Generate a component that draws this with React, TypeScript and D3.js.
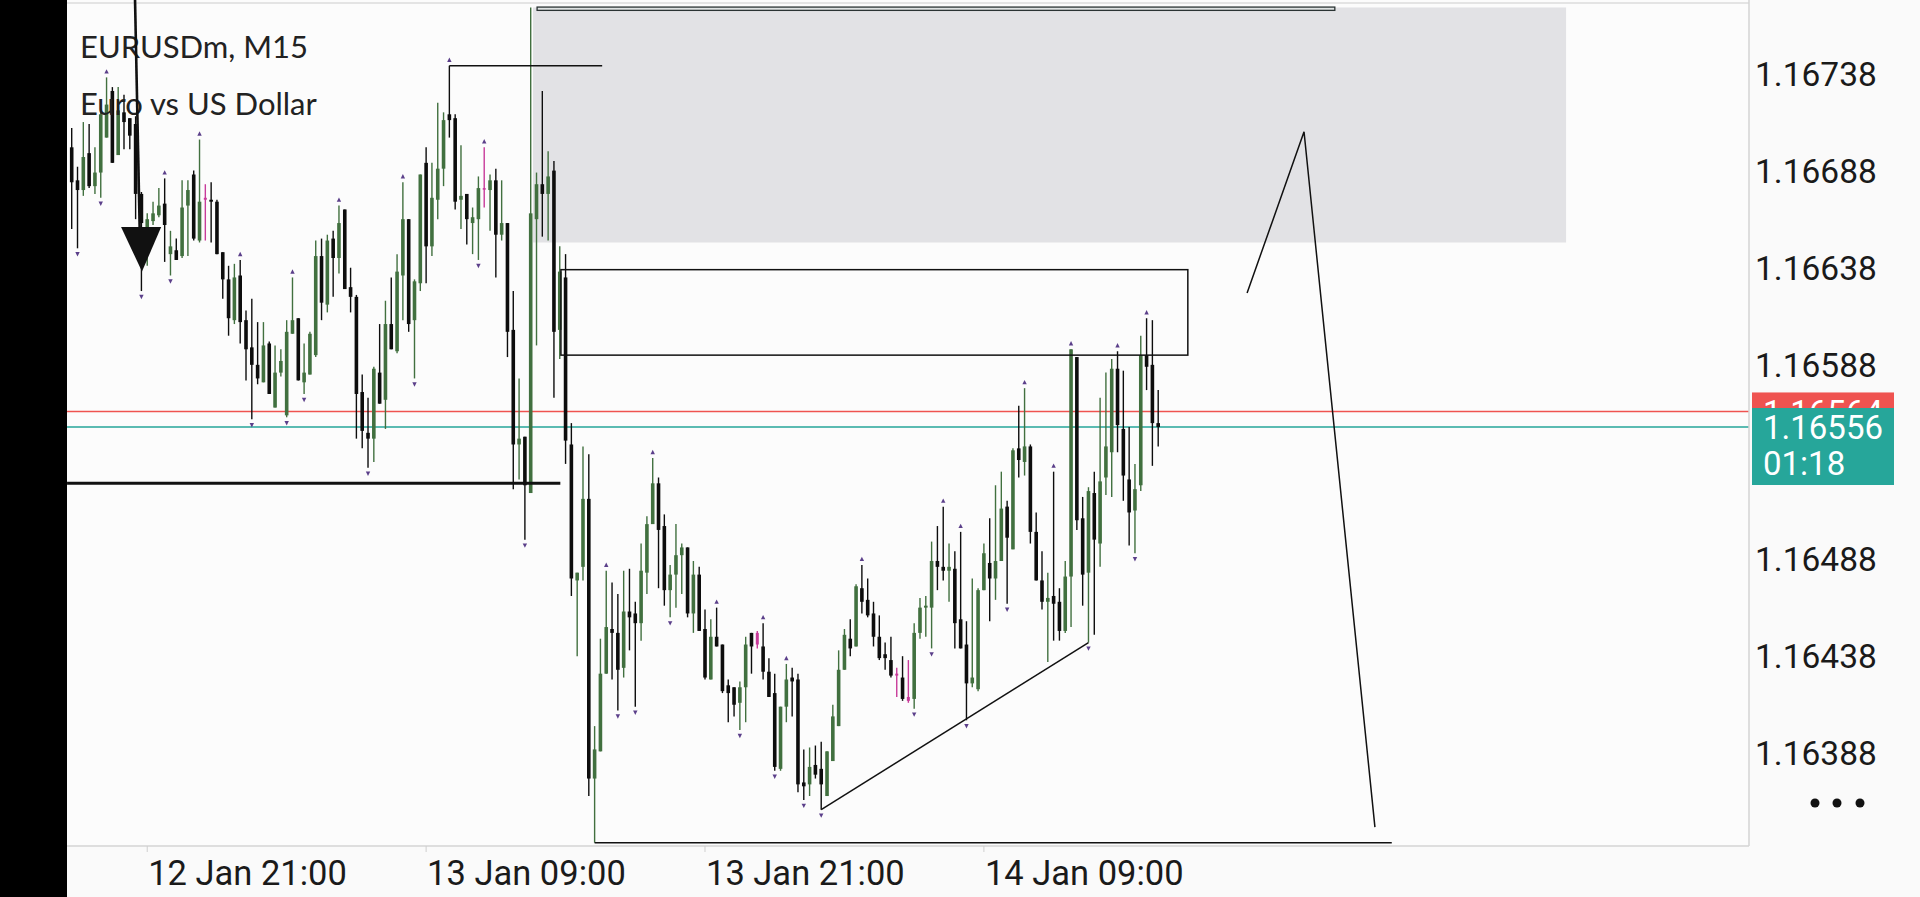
import React from 'react';
import * as d3 from 'd3';

const W = 1920;
const H = 897;
const PLOT = { left: 67, right: 1749, top: 0, bottom: 846 };

const open = [
  1.16700, 1.16683, 1.16678, 1.16697, 1.16680, 1.16687, 1.16705, 1.16729, 1.16696, 1.16718,
  1.16715, 1.16712, 1.16676, 1.16656, 1.16662, 1.16665, 1.16671, 1.16645, 1.16647, 1.16644,
  1.16670, 1.16686, 1.16652, 1.16673, 1.16673, 1.16672, 1.16646, 1.16632, 1.16611, 1.16634,
  1.16611, 1.16597, 1.16588, 1.16579, 1.16599, 1.16566, 1.16584, 1.16562, 1.16604, 1.16612,
  1.16579, 1.16583, 1.16593, 1.16644, 1.16619, 1.16653, 1.16643, 1.16668, 1.16628, 1.16623,
  1.16574, 1.16553, 1.16550, 1.16584, 1.16570, 1.16609, 1.16595, 1.16634, 1.16663, 1.16611,
  1.16630, 1.16692, 1.16649, 1.16673, 1.16689, 1.16717, 1.16715, 1.16673, 1.16676, 1.16661,
  1.16663, 1.16679, 1.16678, 1.16683, 1.16655, 1.16661, 1.16606, 1.16547, 1.16551, 1.16522,
  1.16663, 1.16681, 1.16676, 1.16688, 1.16606, 1.16633, 1.16547, 1.16477, 1.16484, 1.16519,
  1.16375, 1.16389, 1.16429, 1.16452, 1.16450, 1.16432, 1.16461, 1.16460, 1.16455, 1.16481,
  1.16506, 1.16527, 1.16505, 1.16472, 1.16480, 1.16490, 1.16494, 1.16460, 1.16480, 1.16452,
  1.16426, 1.16448, 1.16444, 1.16423, 1.16422, 1.16414, 1.16422, 1.16450, 1.16450, 1.16443,
  1.16430, 1.16419, 1.16380, 1.16412, 1.16427, 1.16426, 1.16373, 1.16372, 1.16382, 1.16380,
  1.16366, 1.16384, 1.16402, 1.16431, 1.16447, 1.16443, 1.16473, 1.16467, 1.16460, 1.16448,
  1.16439, 1.16436, 1.16428, 1.16427, 1.16415, 1.16416, 1.16450, 1.16463, 1.16463, 1.16487,
  1.16484, 1.16482, 1.16483, 1.16457, 1.16444, 1.16424, 1.16421, 1.16472, 1.16486, 1.16478,
  1.16487, 1.16515, 1.16493, 1.16545, 1.16538, 1.16546, 1.16502, 1.16477, 1.16466, 1.16469,
  1.16466, 1.16451, 1.16479, 1.16592, 1.16509, 1.16481, 1.16522, 1.16496, 1.16530, 1.16543,
  1.16586, 1.16555, 1.16529, 1.16513, 1.16526, 1.16593, 1.16588, 1.16558,
];

const high = [
  1.16710, 1.16690, 1.16713, 1.16712, 1.16700, 1.16720, 1.16736, 1.16731, 1.16731, 1.16727,
  1.16715, 1.16716, 1.16677, 1.16666, 1.16672, 1.16679, 1.16684, 1.16657, 1.16653, 1.16683,
  1.16683, 1.16688, 1.16704, 1.16681, 1.16682, 1.16673, 1.16646, 1.16639, 1.16640, 1.16642,
  1.16616, 1.16622, 1.16610, 1.16610, 1.16600, 1.16598, 1.16596, 1.16611, 1.16633, 1.16612,
  1.16599, 1.16605, 1.16652, 1.16653, 1.16655, 1.16657, 1.16670, 1.16668, 1.16638, 1.16624,
  1.16583, 1.16571, 1.16587, 1.16609, 1.16621, 1.16633, 1.16645, 1.16682, 1.16663, 1.16632,
  1.16686, 1.16700, 1.16692, 1.16723, 1.16718, 1.16742, 1.16717, 1.16701, 1.16676, 1.16669,
  1.16685, 1.16700, 1.16686, 1.16689, 1.16683, 1.16661, 1.16626, 1.16581, 1.16551, 1.16772,
  1.16687, 1.16729, 1.16698, 1.16693, 1.16649, 1.16645, 1.16558, 1.16481, 1.16546, 1.16542,
  1.16402, 1.16447, 1.16482, 1.16476, 1.16470, 1.16482, 1.16483, 1.16466, 1.16496, 1.16510,
  1.16540, 1.16530, 1.16511, 1.16485, 1.16506, 1.16496, 1.16494, 1.16487, 1.16484, 1.16462,
  1.16457, 1.16463, 1.16444, 1.16426, 1.16422, 1.16425, 1.16448, 1.16450, 1.16451, 1.16455,
  1.16437, 1.16429, 1.16412, 1.16434, 1.16432, 1.16429, 1.16390, 1.16391, 1.16392, 1.16394,
  1.16389, 1.16413, 1.16441, 1.16452, 1.16457, 1.16475, 1.16485, 1.16478, 1.16466, 1.16459,
  1.16445, 1.16448, 1.16432, 1.16438, 1.16436, 1.16455, 1.16468, 1.16469, 1.16497, 1.16505,
  1.16515, 1.16496, 1.16492, 1.16502, 1.16456, 1.16478, 1.16473, 1.16496, 1.16509, 1.16526,
  1.16533, 1.16518, 1.16545, 1.16567, 1.16576, 1.16547, 1.16512, 1.16492, 1.16481, 1.16533,
  1.16473, 1.16487, 1.16596, 1.16592, 1.16520, 1.16525, 1.16533, 1.16571, 1.16584, 1.16591,
  1.16595, 1.16585, 1.16556, 1.16537, 1.16603, 1.16612, 1.16611, 1.16575,
];

const low = [
  1.16658, 1.16648, 1.16675, 1.16679, 1.16676, 1.16674, 1.16705, 1.16692, 1.16696, 1.16699,
  1.16699, 1.16663, 1.16626, 1.16639, 1.16660, 1.16664, 1.16641, 1.16634, 1.16642, 1.16643,
  1.16644, 1.16652, 1.16651, 1.16652, 1.16651, 1.16645, 1.16622, 1.16603, 1.16609, 1.16599,
  1.16580, 1.16560, 1.16578, 1.16579, 1.16573, 1.16566, 1.16582, 1.16561, 1.16604, 1.16580,
  1.16573, 1.16583, 1.16592, 1.16611, 1.16615, 1.16623, 1.16635, 1.16627, 1.16615, 1.16550,
  1.16545, 1.16535, 1.16538, 1.16568, 1.16555, 1.16596, 1.16594, 1.16611, 1.16605, 1.16581,
  1.16626, 1.16630, 1.16644, 1.16663, 1.16680, 1.16705, 1.16668, 1.16658, 1.16650, 1.16645,
  1.16642, 1.16669, 1.16657, 1.16633, 1.16652, 1.16592, 1.16524, 1.16529, 1.16498, 1.16522,
  1.16598, 1.16654, 1.16652, 1.16571, 1.16591, 1.16537, 1.16469, 1.16438, 1.16477, 1.16366,
  1.16342, 1.16389, 1.16429, 1.16426, 1.16410, 1.16427, 1.16441, 1.16412, 1.16446, 1.16470,
  1.16506, 1.16473, 1.16464, 1.16458, 1.16463, 1.16470, 1.16458, 1.16450, 1.16451, 1.16426,
  1.16426, 1.16443, 1.16419, 1.16404, 1.16407, 1.16400, 1.16404, 1.16429, 1.16442, 1.16426,
  1.16417, 1.16379, 1.16379, 1.16404, 1.16407, 1.16368, 1.16364, 1.16366, 1.16375, 1.16359,
  1.16366, 1.16384, 1.16402, 1.16431, 1.16438, 1.16443, 1.16460, 1.16458, 1.16443, 1.16436,
  1.16431, 1.16427, 1.16417, 1.16415, 1.16414, 1.16411, 1.16447, 1.16448, 1.16442, 1.16472,
  1.16477, 1.16466, 1.16442, 1.16442, 1.16405, 1.16422, 1.16420, 1.16472, 1.16456, 1.16467,
  1.16487, 1.16465, 1.16493, 1.16530, 1.16531, 1.16496, 1.16477, 1.16462, 1.16435, 1.16446,
  1.16446, 1.16450, 1.16453, 1.16503, 1.16464, 1.16445, 1.16449, 1.16484, 1.16521, 1.16520,
  1.16543, 1.16518, 1.16495, 1.16491, 1.16523, 1.16575, 1.16536, 1.16546,
];

const close = [
  1.16682, 1.16678, 1.16695, 1.16680, 1.16687, 1.16717, 1.16722, 1.16692, 1.16719, 1.16713,
  1.16706, 1.16676, 1.16661, 1.16663, 1.16666, 1.16670, 1.16660, 1.16649, 1.16642, 1.16669,
  1.16678, 1.16653, 1.16672, 1.16674, 1.16672, 1.16645, 1.16632, 1.16612, 1.16633, 1.16610,
  1.16596, 1.16588, 1.16581, 1.16598, 1.16573, 1.16584, 1.16590, 1.16605, 1.16611, 1.16580,
  1.16584, 1.16604, 1.16644, 1.16620, 1.16652, 1.16643, 1.16661, 1.16627, 1.16623, 1.16573,
  1.16554, 1.16550, 1.16586, 1.16568, 1.16609, 1.16596, 1.16636, 1.16663, 1.16609, 1.16631,
  1.16686, 1.16649, 1.16674, 1.16689, 1.16714, 1.16714, 1.16672, 1.16675, 1.16663, 1.16664,
  1.16679, 1.16679, 1.16683, 1.16655, 1.16661, 1.16605, 1.16547, 1.16550, 1.16526, 1.16666,
  1.16681, 1.16676, 1.16685, 1.16605, 1.16636, 1.16549, 1.16478, 1.16481, 1.16519, 1.16375,
  1.16390, 1.16429, 1.16453, 1.16450, 1.16431, 1.16461, 1.16458, 1.16455, 1.16482, 1.16506,
  1.16527, 1.16503, 1.16472, 1.16480, 1.16490, 1.16494, 1.16460, 1.16480, 1.16451, 1.16427,
  1.16448, 1.16443, 1.16420, 1.16419, 1.16413, 1.16422, 1.16444, 1.16443, 1.16444, 1.16430,
  1.16417, 1.16381, 1.16412, 1.16426, 1.16425, 1.16372, 1.16371, 1.16381, 1.16377, 1.16372,
  1.16389, 1.16407, 1.16431, 1.16449, 1.16442, 1.16474, 1.16466, 1.16459, 1.16448, 1.16437,
  1.16437, 1.16428, 1.16429, 1.16416, 1.16417, 1.16450, 1.16463, 1.16464, 1.16487, 1.16484,
  1.16482, 1.16484, 1.16455, 1.16442, 1.16424, 1.16427, 1.16472, 1.16491, 1.16478, 1.16487,
  1.16514, 1.16499, 1.16544, 1.16539, 1.16546, 1.16502, 1.16477, 1.16466, 1.16468, 1.16465,
  1.16451, 1.16479, 1.16596, 1.16508, 1.16480, 1.16523, 1.16498, 1.16528, 1.16546, 1.16586,
  1.16557, 1.16531, 1.16512, 1.16524, 1.16593, 1.16587, 1.16558, 1.16556,
];

const magentaBars = [23, 71, 118, 142, 144];
const upFractals = [6, 16, 22, 29, 38, 46, 57, 65, 71, 92, 100, 111, 119, 123, 136, 150, 153, 164, 169, 172, 180, 185];
const downFractals = [1, 5, 12, 17, 31, 37, 40, 51, 59, 70, 78, 94, 97, 103, 115, 121, 126, 129, 145, 148, 154, 161, 175, 183];

const priceTicks = [1.16738, 1.16688, 1.16638, 1.16588, 1.16538, 1.16488, 1.16438, 1.16388];
const timeTickBars = [13, 61, 109, 157];
const timeTickLabels = ['12 Jan 21:00', '13 Jan 09:00', '13 Jan 21:00', '14 Jan 09:00'];

const askPrice = 1.16564;
const bidPrice = 1.16556;
const countdown = '01:18';
const symbolTitle = 'EURUSDm, M15';
const symbolName = 'Euro vs US Dollar';

// drawn objects (bar index / price)
const zoneBars = [79.4, 257.2];
const zonePrices = [1.16772, 1.16651];
const bandBars = [80.1, 217.4];
const bandPrices = [1.167722, 1.167705];
const boxBars = [84.2, 192.1];
const boxPrices = [1.16637, 1.16593];
const supportPrice = 1.16527;
const supportBars = [-0.8, 84.1];
const highLineEndBar = 91.3;
const lowLineEndBar = 227.2;
const trendBars = [129, 175];
const zigBars = [202.3, 212.1, 224.3];
const zigPrices = [1.16625, 1.16708, 1.16350];
const arrowLineBars = [10.9, 11.7];
const arrowLinePrices = [1.16776, 1.16658];
const arrowHeadBars = [8.5, 15.4, 12.1];
const arrowHeadPrices = [1.16659, 1.16659, 1.16636];

const GREEN = '#41703f';
const BLACK = '#0d0d0d';
const MAGENTA = '#c83b9a';
const RED = '#ef5350';
const TEAL = '#26a69a';

export default function App() {
  const x = d3.scaleLinear().domain([0, 187]).range([71.7, 1158.2]);
  const y = d3.scaleLinear().domain([1.16388, 1.16738]).range([753.3, 73.5]);

  const candles = open.map((o, i) => {
    const c = close[i];
    const isMag = magentaBars.includes(i);
    const color = isMag ? MAGENTA : c > o ? GREEN : BLACK;
    const cx = x(i);
    const yTop = y(Math.max(o, c));
    const yBot = y(Math.min(o, c));
    const bw = isMag ? 3 : 3.6;
    return (
      <g key={i}>
        <line x1={cx} x2={cx} y1={y(high[i])} y2={y(low[i])} stroke={color} strokeWidth={1.4} />
        <rect x={cx - bw / 2} y={yTop} width={bw} height={Math.max(1.6, yBot - yTop)} fill={color} />
      </g>
    );
  });

  const tri = (cx: number, cy: number, up: boolean) => {
    const s = 2.2;
    return up
      ? `M${cx - s},${cy + s} L${cx + s},${cy + s} L${cx},${cy - s} Z`
      : `M${cx - s},${cy - s} L${cx + s},${cy - s} L${cx},${cy + s} Z`;
  };

  const zig = d3.line<number>()
    .x((_, i) => x(zigBars[i]))
    .y((p) => y(p))(zigPrices) as string;

  const yAsk = y(askPrice);
  const yBid = y(bidPrice);
  const axisFont = 'Roboto, "Noto Sans", sans-serif';

  return (
    <div style={{ position: 'absolute', left: 0, top: 0, width: W, height: H, overflow: 'hidden' }}>
      <svg width={W} height={H} style={{ display: 'block' }}>
        <defs>
          <clipPath id="plotClip">
            <rect x={PLOT.left} y={PLOT.top} width={PLOT.right - PLOT.left} height={PLOT.bottom - PLOT.top} />
          </clipPath>
          <clipPath id="askClip">
            <rect x={1752} y={0} width={142} height={yBid - 19} />
          </clipPath>
        </defs>
        <rect x={0} y={0} width={W} height={H} fill="#fafafa" />
        <rect x={PLOT.left} y={PLOT.top} width={PLOT.right - PLOT.left} height={PLOT.bottom - PLOT.top} fill="#fcfcfc" />

        <g clipPath="url(#plotClip)">
          {/* supply zone */}
          <rect
            x={x(zoneBars[0])}
            y={y(zonePrices[0])}
            width={x(zoneBars[1]) - x(zoneBars[0])}
            height={y(zonePrices[1]) - y(zonePrices[0])}
            fill="#e2e2e5"
          />
          <rect
            x={x(bandBars[0])}
            y={y(bandPrices[0])}
            width={x(bandBars[1]) - x(bandBars[0])}
            height={y(bandPrices[1]) - y(bandPrices[0])}
            fill="#dfe3e3"
            stroke="#2a3333"
            strokeWidth={1.3}
          />

          {/* price lines */}
          <line x1={PLOT.left} x2={PLOT.right} y1={yAsk} y2={yAsk} stroke={RED} strokeWidth={1.5} />
          <line x1={PLOT.left} x2={PLOT.right} y1={yBid} y2={yBid} stroke={TEAL} strokeWidth={1.5} />

          {candles}

          {upFractals.map((i) => (
            <path key={'u' + i} d={tri(x(i), y(high[i]) - 6, true)} fill="#5b3f8a" />
          ))}
          {downFractals.map((i) => (
            <path key={'d' + i} d={tri(x(i), y(low[i]) + 6, false)} fill="#5b3f8a" />
          ))}

          {/* rectangle */}
          <rect
            x={x(boxBars[0])}
            y={y(boxPrices[0])}
            width={x(boxBars[1]) - x(boxBars[0])}
            height={y(boxPrices[1]) - y(boxPrices[0])}
            fill="none"
            stroke="#111"
            strokeWidth={1.5}
          />
          {/* support thick line */}
          <line x1={x(supportBars[0])} x2={x(supportBars[1])} y1={y(supportPrice)} y2={y(supportPrice)} stroke="#111" strokeWidth={3} />
          {/* high line */}
          <line x1={x(65)} x2={x(highLineEndBar)} y1={y(high[65])} y2={y(high[65])} stroke="#111" strokeWidth={1.5} />
          {/* low line */}
          <line x1={x(90)} x2={x(lowLineEndBar)} y1={y(low[90])} y2={y(low[90])} stroke="#111" strokeWidth={1.5} />
          {/* trendline */}
          <line x1={x(trendBars[0])} y1={y(low[trendBars[0]])} x2={x(trendBars[1])} y2={y(low[trendBars[1]])} stroke="#111" strokeWidth={1.5} />
          {/* projection zigzag */}
          <path d={zig} fill="none" stroke="#111" strokeWidth={1.5} />
        </g>

        {/* frame */}
        <line x1={PLOT.left} x2={PLOT.right} y1={3} y2={3} stroke="#dcdcdc" strokeWidth={1.5} />
        <line x1={PLOT.right} x2={PLOT.right} y1={0} y2={PLOT.bottom} stroke="#d4d4d4" strokeWidth={1.5} />
        <line x1={PLOT.left} x2={PLOT.right} y1={PLOT.bottom} y2={PLOT.bottom} stroke="#d4d4d4" strokeWidth={1.5} />

        {/* titles */}
        <text x={80} y={58} fontFamily="Lato, sans-serif" fontSize={31} fill="#222">{symbolTitle}</text>
        <text x={80} y={115} fontFamily="Lato, sans-serif" fontSize={31} fill="#222">{symbolName}</text>

        {/* arrow */}
        <line
          x1={x(arrowLineBars[0])}
          y1={y(arrowLinePrices[0])}
          x2={x(arrowLineBars[1])}
          y2={y(arrowLinePrices[1])}
          stroke="#111"
          strokeWidth={2.6}
        />
        <path
          d={`M${x(arrowHeadBars[0])},${y(arrowHeadPrices[0])} L${x(arrowHeadBars[1])},${y(arrowHeadPrices[1])} L${x(arrowHeadBars[2])},${y(arrowHeadPrices[2])} Z`}
          fill="#111"
        />

        {/* price axis */}
        {priceTicks.map((p) => (
          <text key={p} x={1755} y={y(p) + 12} fontFamily={axisFont} fontSize={33.5} fill="#1a1a1a">
            {p.toFixed(5)}
          </text>
        ))}

        {/* ask label (partly hidden by bid label) */}
        <rect x={1752} y={yAsk - 19} width={142} height={40} fill={RED} />
        <text x={1763} y={yAsk + 13} fontFamily={axisFont} fontSize={33} fill="#fff" clipPath="url(#askClip)">
          {askPrice.toFixed(5)}
        </text>
        {/* bid label */}
        <rect x={1752} y={yBid - 19} width={142} height={77} fill={TEAL} />
        <text x={1763} y={yBid + 12} fontFamily={axisFont} fontSize={33} fill="#fff">{bidPrice.toFixed(5)}</text>
        <text x={1763} y={yBid + 48} fontFamily={axisFont} fontSize={33} fill="#fff">{countdown}</text>

        {/* time axis */}
        {timeTickBars.map((b, i) => (
          <g key={b}>
            <line x1={x(b)} x2={x(b)} y1={PLOT.bottom} y2={PLOT.bottom + 6} stroke="#cfcfcf" strokeWidth={1} />
            <text x={x(b) + 1} y={885} fontFamily={axisFont} fontSize={34.5} fill="#1a1a1a">{timeTickLabels[i]}</text>
          </g>
        ))}

        {/* menu dots */}
        {[1815, 1837, 1860].map((cx) => (
          <circle key={cx} cx={cx} cy={803} r={4.5} fill="#111" />
        ))}

        {/* left dark strip */}
        <rect x={0} y={0} width={PLOT.left} height={H} fill="#000" />
      </svg>
    </div>
  );
}
